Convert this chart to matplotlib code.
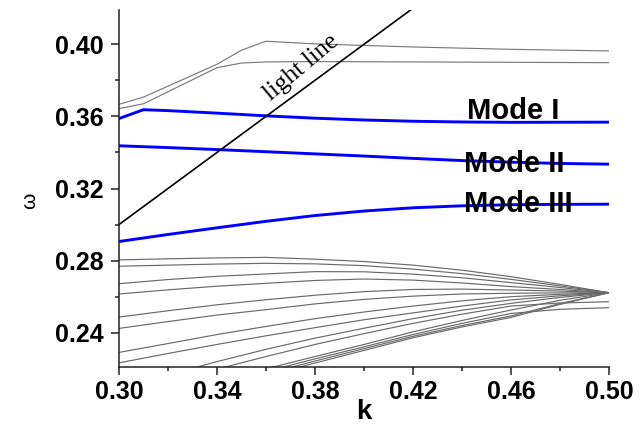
#!/usr/bin/env python3
"""========================================================================
Purpose:
    Band diagram near the light line: guided modes I, II, III (blue)
    among the folded bands (gray).
========================================================================"""
#=========================================================================#
# Preamble                                                                #
#=========================================================================#
import matplotlib
matplotlib.use('Agg')
import matplotlib.pyplot as plt
#-------------------------------------------------------------------------#
# Data                                                                    #
#-------------------------------------------------------------------------#
k_grid      = [0.30, 0.32, 0.34, 0.36, 0.38, 0.40, 0.42, 0.44, 0.46, 0.48, 0.50]
low_bands   = [
    [0.2804, 0.2810, 0.2815, 0.2818, 0.2808, 0.2795, 0.2775, 0.2747, 0.2711, 0.2668, 0.2622],
    [0.2769, 0.2775, 0.2781, 0.2785, 0.2782, 0.2772, 0.2753, 0.2728, 0.2696, 0.2660, 0.2622],
    [0.2672, 0.2695, 0.2713, 0.2726, 0.2739, 0.2738, 0.2725, 0.2705, 0.2678, 0.2651, 0.2622],
    [0.2615, 0.2638, 0.2658, 0.2674, 0.2690, 0.2698, 0.2692, 0.2676, 0.2656, 0.2640, 0.2622],
    [0.2487, 0.2522, 0.2555, 0.2583, 0.2608, 0.2628, 0.2640, 0.2642, 0.2637, 0.2631, 0.2622],
    [0.2424, 0.2462, 0.2498, 0.2528, 0.2560, 0.2585, 0.2603, 0.2615, 0.2619, 0.2621, 0.2622],
    [0.2291, 0.2340, 0.2390, 0.2435, 0.2478, 0.2515, 0.2548, 0.2577, 0.2600, 0.2613, 0.2622],
    [0.2233, 0.2285, 0.2335, 0.2383, 0.2428, 0.2472, 0.2510, 0.2548, 0.2582, 0.2605, 0.2622],
    [0.2090, 0.2165, 0.2240, 0.2308, 0.2370, 0.2425, 0.2478, 0.2525, 0.2563, 0.2596, 0.2622],
    [0.2040, 0.2120, 0.2198, 0.2268, 0.2335, 0.2395, 0.2452, 0.2503, 0.2548, 0.2565, 0.2572],
    [0.1980, 0.2055, 0.2128, 0.2200, 0.2268, 0.2335, 0.2405, 0.2468, 0.2526, 0.2580, 0.2622],
    [0.1965, 0.2040, 0.2112, 0.2185, 0.2255, 0.2322, 0.2390, 0.2452, 0.2507, 0.2530, 0.2539],
    [0.1950, 0.2025, 0.2100, 0.2172, 0.2243, 0.2312, 0.2380, 0.2440, 0.2493, 0.2562, 0.2622],
    [0.1940, 0.2015, 0.2088, 0.2160, 0.2232, 0.2302, 0.2372, 0.2432, 0.2485, 0.2557, 0.2622],
]
k_up        = [0.30, 0.31, 0.34, 0.35, 0.36, 0.38, 0.42, 0.46, 0.50]
up_band_1   = [0.3667, 0.3707, 0.3889, 0.3967, 0.4017, 0.4002, 0.3985, 0.3972, 0.3963]
up_band_2   = [0.3643, 0.3670, 0.3870, 0.3896, 0.3902, 0.3904, 0.3902, 0.3900, 0.3898]
k_m1        = [0.30, 0.31, 0.32, 0.34, 0.36, 0.38, 0.40, 0.42, 0.44, 0.46, 0.50]
mode_1      = [0.3588, 0.3637, 0.3632, 0.3618, 0.3603, 0.3590, 0.3580, 0.3573, 0.3569, 0.3567, 0.3568]
mode_2      = [0.3437, 0.3427, 0.3416, 0.3404, 0.3392, 0.3380, 0.3367, 0.3355, 0.3346, 0.3339, 0.3335]
mode_3      = [0.2906, 0.2945, 0.2982, 0.3018, 0.3050, 0.3075, 0.3093, 0.3104, 0.3110, 0.3112, 0.3113]
k_light     = [0.30, 0.42]
mode_names  = ['Mode I', 'Mode II', 'Mode III']
mode_pos    = [(0.4419, 0.3583), (0.4408, 0.3291), (0.4408, 0.3067)]
x_ticks     = [0.30, 0.34, 0.38, 0.42, 0.46, 0.50]
y_ticks     = [0.24, 0.28, 0.32, 0.36, 0.40]
#=========================================================================#
# Main                                                                    #
#=========================================================================#
if __name__ == '__main__':
    plt.rcParams['font.family'] = ['Liberation Sans', 'DejaVu Sans']
    fig = plt.figure(figsize=(6.39, 4.26), dpi=100)
    ax  = fig.add_axes([0.1862, 0.1385, 0.7668, 0.838])
    #---------------------------------------------------------------------#
    # Gray bands                                                          #
    #---------------------------------------------------------------------#
    for band in low_bands:
        ax.plot(k_grid, band, color='#6a6a6a', lw=0.85)
    ax.plot(k_up, up_band_1, color='#7a7a7a', lw=0.85)
    ax.plot(k_up, up_band_2, color='#7a7a7a', lw=0.85)
    #---------------------------------------------------------------------#
    # Guided modes and light line                                         #
    #---------------------------------------------------------------------#
    ax.plot(k_m1, mode_1, color='#0000ff', lw=2.1)
    ax.plot(k_grid, mode_2, color='#0000ff', lw=2.1)
    ax.plot(k_grid, mode_3, color='#0000ff', lw=2.1)
    ax.plot(k_light, k_light, color='black', lw=1.2)
    ax.text(0.3745, 0.3870, 'light line', rotation=40, ha='center',
            va='center', fontsize=18, family='Liberation Serif')
    for name, (kx, wy) in zip(mode_names, mode_pos):
        ax.text(kx, wy, name, fontsize=21, fontweight='bold',
                ha='left', va='baseline')
    #---------------------------------------------------------------------#
    # Axes                                                                #
    #---------------------------------------------------------------------#
    ax.set_xlim(0.30, 0.50)
    ax.set_ylim(0.221, 0.419)
    ax.spines['top'].set_visible(False)
    ax.spines['right'].set_visible(False)
    for s in ['left', 'bottom']:
        ax.spines[s].set_linewidth(1.1)
        ax.spines[s].set_color('#222222')
    ax.set_xticks(x_ticks)
    ax.set_yticks(y_ticks)
    ax.set_xticks([0.32, 0.36, 0.40, 0.44, 0.48], minor=True)
    ax.set_yticks([0.26, 0.30, 0.34, 0.38], minor=True)
    ax.set_xticklabels(['%.2f' % v for v in x_ticks])
    ax.set_yticklabels(['%.2f' % v for v in y_ticks])
    ax.tick_params(which='major', length=6, width=1.1, direction='out',
                   labelsize=18, color='#222222')
    ax.tick_params(which='minor', length=3, width=1.1, direction='out',
                   color='#222222')
    ax.tick_params(axis='y', pad=5)
    for lab in ax.get_xticklabels() + ax.get_yticklabels():
        lab.set_fontweight('bold')
    ax.set_xlabel('k', fontsize=20, fontweight='bold', labelpad=-4)
    ax.set_ylabel('ω', fontsize=15)
    ax.yaxis.set_label_coords(-0.162, 0.465)
    fig.savefig('out.png', dpi=100)
    plt.close()
